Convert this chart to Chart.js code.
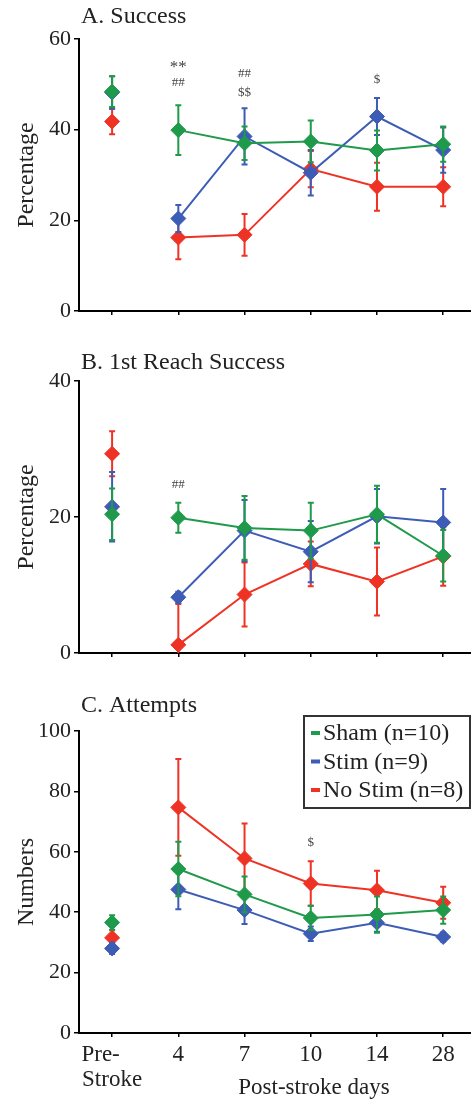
<!DOCTYPE html>
<html>
<head>
    <title>Success, 1st reach success and attempts</title>
    <script src="https://cdn.jsdelivr.net/npm/chart.js"></script>
    <style>
        body { margin: 0; background: #fff; overflow: hidden; }
        canvas { display: block; }
    </style>
</head>
<body>
    <canvas id="successChart" width="471" height="340"></canvas>
    <canvas id="reachChart" width="471" height="340"></canvas>
    <canvas id="attemptsChart" width="471" height="419"></canvas>

    <script>
        // x categories (Pre-stroke + post-stroke days)
        const dayLabels = [['Pre-    ', 'Stroke'], '4', '7', '10', '14', '28'];
        const groupNames = ['Sham (n=10)', 'Stim (n=9)', 'No Stim (n=8)'];
        const groupColors = ['#1f9a4a', '#3d5cb5', '#ee3325'];

        // A. Success (%), mean and SEM
        const successSham = [48.4, 39.9, 37.0, 37.4, 35.4, 36.8];
        const successShamErr = [3.4, 5.5, 3.7, 4.6, 4.4, 3.9];
        const successStim = [48.2, 20.4, 38.5, 30.5, 42.9, 35.5];
        const successStimErr = [3.6, 3.0, 6.2, 5.0, 4.1, 5.0];
        const successNoStim = [41.8, 16.2, 16.8, 31.3, 27.4, 27.4];
        const successNoStimErr = [2.8, 4.8, 4.6, 4.0, 5.3, 4.3];

        // B. 1st reach success (%)
        const reachSham = [20.4, 19.9, 18.4, 18.0, 20.4, 14.3];
        const reachShamErr = [3.8, 2.2, 4.7, 4.1, 4.2, 3.8];
        const reachStim = [21.5, 8.2, 18.0, 14.9, 20.1, 19.2];
        const reachStimErr = [5.1, 0.8, 4.5, 4.5, 4.0, 4.9];
        const reachNoStim = [29.3, 1.2, 8.6, 13.1, 10.5, 14.2];
        const reachNoStimErr = [3.3, 6.0, 4.7, 3.3, 5.0, 4.3];

        // C. Attempts (numbers)
        const attemptSham = [36.6, 54.3, 45.9, 38.1, 39.2, 40.7];
        const attemptShamErr = [2.4, 9.0, 5.9, 4.0, 6.0, 4.5];
        const attemptStim = [28.0, 47.5, 40.7, 32.9, 36.5, 31.8];
        const attemptStimErr = [1.8, 6.5, 4.6, 2.4, 3.0, 1.5];
        const attemptNoStim = [31.5, 74.7, 57.8, 49.5, 47.3, 43.1];
        const attemptNoStimErr = [2.5, 16.0, 11.6, 7.4, 6.4, 5.3];

        // significance marks: [day index, y value, text]
        const successMarks = [[1, 53.8, '**'], [1, 50.3, '##'], [2, 52.3, '##'], [2, 48.1, '$$'], [4, 51.0, '$']];
        const reachMarks = [[1, 24.7, '##']];
        const attemptMarks = [[3, 63, '$']];

        const serif = "'Liberation Serif', 'Times New Roman', serif";

        const errorBars = {
            id: 'errorBars',
            beforeDatasetDraw(chart, args) {
                const ds = chart.data.datasets[args.index];
                const ctx = chart.ctx;
                const yScale = chart.scales.y;
                const area = chart.chartArea;
                ctx.save();
                ctx.beginPath();
                ctx.rect(area.left, area.top, area.right - area.left, area.bottom - area.top);
                ctx.clip();
                ctx.strokeStyle = ds.borderColor;
                ctx.lineWidth = 2;
                args.meta.data.forEach((pt, i) => {
                    const v = ds.data[i].y;
                    const e = ds.errors[i];
                    const top = yScale.getPixelForValue(v + e);
                    const bot = yScale.getPixelForValue(v - e);
                    ctx.beginPath();
                    ctx.moveTo(pt.x, top); ctx.lineTo(pt.x, bot);
                    ctx.moveTo(pt.x - 3, top); ctx.lineTo(pt.x + 3, top);
                    ctx.moveTo(pt.x - 3, bot); ctx.lineTo(pt.x + 3, bot);
                    ctx.stroke();
                });
                ctx.restore();
            }
        };

        function textPlugin(cfg) {
            return {
                id: 'panelText',
                afterDraw(chart) {
                    const ctx = chart.ctx;
                    const area = chart.chartArea;
                    const xs = chart.scales.x, ys = chart.scales.y;
                    ctx.save();
                    ctx.fillStyle = '#222';
                    ctx.textBaseline = 'middle';
                    // panel title
                    ctx.font = '24px ' + serif;
                    ctx.textAlign = 'left';
                    ctx.fillText(cfg.title, area.left + 2, cfg.titleY);
                    // y axis title
                    ctx.save();
                    ctx.translate(27, (area.top + area.bottom) / 2);
                    ctx.rotate(-Math.PI / 2);
                    ctx.textAlign = 'center';
                    ctx.font = '24px ' + serif;
                    ctx.fillText(cfg.yTitle, 0, 0);
                    ctx.restore();
                    // significance marks
                    ctx.fillStyle = '#444';
                    ctx.textAlign = 'center';
                    cfg.marks.forEach(([i, v, t]) => {
                        ctx.font = (t === '**' ? '17px ' : '13px ') + serif;
                        ctx.fillText(t, xs.getPixelForValue(i), ys.getPixelForValue(v));
                    });
                    ctx.fillStyle = '#222';
                    if (cfg.xTitle) {
                        ctx.font = '23px ' + serif;
                        ctx.fillText(cfg.xTitle, 314, 408);
                    }
                    if (cfg.legend) {
                        ctx.strokeStyle = '#333';
                        ctx.lineWidth = 2;
                        ctx.strokeRect(304, 36, 166, 92);
                        ctx.textAlign = 'left';
                        ctx.font = '24px ' + serif;
                        chart.data.datasets.forEach((ds, i) => {
                            const yy = 53 + i * 28.5;
                            ctx.fillStyle = ds.borderColor;
                            ctx.fillRect(311, yy - 2, 9, 4);
                            ctx.fillStyle = '#222';
                            ctx.fillText(ds.label, 323, yy + 1);
                        });
                    }
                    ctx.restore();
                }
            };
        }

        function makeDataset(label, color, values, errors) {
            return {
                label: label,
                data: values.map((v, i) => ({ x: i, y: v })),
                errors: errors,
                borderColor: color,
                backgroundColor: color,
                borderWidth: 2,
                pointStyle: 'rectRot',
                pointRadius: 7.5,
                pointBorderWidth: 1,
                pointBackgroundColor: color,
                pointBorderColor: color,
                tension: 0,
                // pre-stroke point is not joined to day 4
                segment: {
                    borderColor: ctx => ctx.p0DataIndex === 0 ? 'rgba(0,0,0,0)' : color,
                },
            };
        }

        function makePanel(id, series, yMax, yStep, top, xHeight, showX, cfg) {
            new Chart(document.getElementById(id).getContext('2d'), {
                type: 'line',
                data: {
                    datasets: series.map((s, i) => makeDataset(groupNames[i], groupColors[i], s[0], s[1])),
                },
                options: {
                    responsive: false,
                    animation: false,
                    layout: { autoPadding: false, padding: { top: top, left: 0, right: 0, bottom: 0 } },
                    plugins: { legend: { display: false }, tooltip: { enabled: false } },
                    scales: {
                        x: {
                            type: 'linear',
                            min: -0.5,
                            max: 5.42,
                            afterBuildTicks: s => { s.ticks = dayLabels.map((_, i) => ({ value: i })); },
                            afterFit: s => { s.height = xHeight; },
                            ticks: {
                                display: showX,
                                callback: v => dayLabels[v],
                                font: { family: serif, size: 23, lineHeight: 1.1 },
                                color: '#222',
                                padding: 5,
                                maxRotation: 0,
                                autoSkip: false,
                            },
                            grid: { drawOnChartArea: false, tickLength: 4, color: '#000', lineWidth: 1.5 },
                            border: { color: '#000', width: 2 },
                        },
                        y: {
                            min: 0,
                            max: yMax,
                            afterFit: s => { s.width = 79; },
                            ticks: {
                                stepSize: yStep,
                                font: { family: serif, size: 22 },
                                color: '#222',
                                padding: 3,
                            },
                            grid: { drawOnChartArea: false, tickLength: 5, color: '#000', lineWidth: 1.5 },
                            border: { color: '#000', width: 2 },
                        },
                    },
                },
                plugins: [errorBars, textPlugin(cfg)],
            });
        }

        makePanel('successChart',
            [[successSham, successShamErr], [successStim, successStimErr], [successNoStim, successNoStimErr]],
            60, 20, 39, 29, false,
            { title: 'A. Success', titleY: 17, yTitle: 'Percentage', marks: successMarks });

        makePanel('reachChart',
            [[reachSham, reachShamErr], [reachStim, reachStimErr], [reachNoStim, reachNoStimErr]],
            40, 20, 41, 27, false,
            { title: 'B. 1st Reach Success', titleY: 23, yTitle: 'Percentage', marks: reachMarks });

        makePanel('attemptsChart',
            [[attemptSham, attemptShamErr], [attemptStim, attemptStimErr], [attemptNoStim, attemptNoStimErr]],
            100, 20, 51, 66, true,
            { title: 'C. Attempts', titleY: 26, yTitle: 'Numbers', marks: attemptMarks, xTitle: 'Post-stroke days', legend: true });
    </script>
</body>
</html>
